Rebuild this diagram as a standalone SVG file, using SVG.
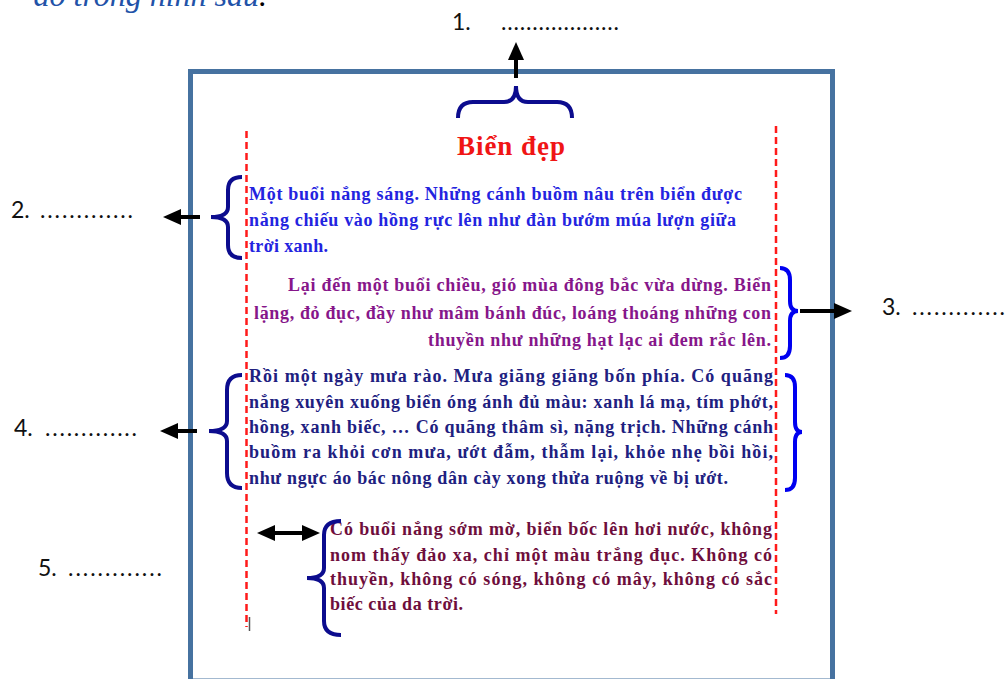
<svg xmlns="http://www.w3.org/2000/svg" width="1007" height="679" viewBox="0 0 1007 679">
<defs>
<style>
.lbl{font-family:Lato,"Liberation Sans",sans-serif;font-size:23px;fill:#111}
.para{font-family:"Liberation Serif","Times New Roman",serif;font-size:18px;font-weight:bold}
.p1{fill:#2323E0}.p2{fill:#86168A}.p3{fill:#20207F}.p4{fill:#6E0E3C}
.brace{fill:none;stroke-width:4}
.bn{stroke:#0C0C8E}.bb{stroke:#0000F0}
.dash{stroke:#FF1A1A;stroke-width:2.5;stroke-dasharray:7 4;fill:none}
.arr{stroke:#000;stroke-width:4;fill:none}
</style>
<marker id="ah" viewBox="0 0 18 16" markerWidth="18" markerHeight="16" refX="10" refY="8" orient="auto-start-reverse" markerUnits="userSpaceOnUse">
<path d="M0,0 L18,8 L0,16 Z" fill="#000"/>
</marker>
</defs>
<rect width="1007" height="679" fill="#fff"/>
<text x="267" y="6" text-anchor="end" font-family="'Liberation Serif',serif" font-style="italic" font-size="32" fill="#2252A8">ào trong hình sau<tspan fill="#000">.</tspan></text>
<g id="frame"><rect x="190.5" y="71.5" width="642" height="609.5" fill="none" stroke="#4672A0" stroke-width="5"/></g>
<g id="guides">
<line class="dash" x1="246.5" y1="131" x2="246.5" y2="627"/>
<line class="dash" x1="776" y1="126" x2="776" y2="614"/>
<line x1="249.5" y1="617" x2="249.5" y2="631" stroke="#555" stroke-width="1.5"/>
</g>
<g id="title"><text x="457" y="155" textLength="108" font-family="'Liberation Serif',serif" font-weight="bold" font-size="27" fill="#F01515">Biển đẹp</text></g>
<g id="para1" class="para p1">
<text x="249" y="200" textLength="493">Một buổi nắng sáng. Những cánh buồm nâu trên biển được</text>
<text x="249" y="226" textLength="487">nắng chiếu vào hồng rực lên như đàn bướm múa lượn giữa</text>
<text x="249" y="252" textLength="79">trời xanh.</text>
</g>
<g id="para2" class="para p2">
<text x="288" y="291" textLength="483">Lại đến một buổi chiều, gió mùa đông bắc vừa dừng. Biển</text>
<text x="254" y="319" textLength="517">lặng, đỏ đục, đầy như mâm bánh đúc, loáng thoáng những con</text>
<text x="428" y="346" textLength="343">thuyền như những hạt lạc ai đem rắc lên.</text>
</g>
<g id="para3" class="para p3">
<text x="249" y="382" textLength="524">Rồi một ngày mưa rào. Mưa giăng giăng bốn phía. Có quãng</text>
<text x="249" y="407.5" textLength="524">nắng xuyên xuống biển óng ánh đủ màu: xanh lá mạ, tím phớt,</text>
<text x="249" y="433" textLength="524">hồng, xanh biếc, … Có quãng thâm sì, nặng trịch. Những cánh</text>
<text x="249" y="458" textLength="524">buồm ra khỏi cơn mưa, ướt đẫm, thẫm lại, khỏe nhẹ bồi hồi,</text>
<text x="249" y="483.5" textLength="479">như ngực áo bác nông dân cày xong thửa ruộng về bị ướt.</text>
</g>
<g id="para4" class="para p4">
<text x="330" y="535" textLength="442">Có buổi nắng sớm mờ, biển bốc lên hơi nước, không</text>
<text x="330" y="560.5" textLength="442">nom thấy đảo xa, chỉ một màu trắng đục. Không có</text>
<text x="330" y="585" textLength="442">thuyền, không có sóng, không có mây, không có sắc</text>
<text x="330" y="610" textLength="133">biếc của da trời.</text>
</g>
<g id="labels">
<text class="lbl" x="452" y="30">1.<tspan x="501" textLength="118">...................</tspan></text>
<text class="lbl" x="11" y="218">2.<tspan x="40" textLength="93">.............</tspan></text>
<text class="lbl" x="882" y="315">3.<tspan x="912" textLength="93">.............</tspan></text>
<text class="lbl" x="14" y="436">4.<tspan x="45" textLength="92">.............</tspan></text>
<text class="lbl" x="38" y="576">5.<tspan x="68" textLength="94">.............</tspan></text>
</g>
<g id="braces">
<path class="brace bn" d="M458,118 Q458,102 473,102 L504,102 Q516,102 516,86 Q516,102 528,102 L557,102 Q572,102 572,118"/>
<path class="brace bn" d="M242,177 Q228,177 228,190 L228,207 Q228,217 211,217 Q228,217 228,227 L228,245 Q228,258 242,258"/>
<path class="brace bb" d="M780,268 Q790,268 790,280 L790,301 Q790,311 798,311 Q790,311 790,321 L790,346 Q790,358 780,358"/>
<path class="brace bn" d="M242,375 Q227,375 227,390 L227,421 Q227,431 209,431 Q227,431 227,441 L227,473 Q227,488 242,488"/>
<path class="brace bb" d="M785,375 Q795,375 795,387 L795,422 Q795,432 802,432 Q795,432 795,442 L795,478 Q795,490 785,490"/>
<path class="brace bn" d="M341,521 Q324,521 324,535 L324,568 Q324,578 307,578 Q324,578 324,588 L324,621 Q324,635 341,635"/>
</g>
<g id="connectors">
<line class="arr" x1="516" y1="78" x2="516" y2="50" marker-end="url(#ah)"/>
<line class="arr" x1="200" y1="217" x2="171" y2="217" marker-end="url(#ah)"/>
<line class="arr" x1="800" y1="311" x2="844" y2="311" marker-end="url(#ah)"/>
<line class="arr" x1="197" y1="431" x2="168" y2="431" marker-end="url(#ah)"/>
<line class="arr" x1="265" y1="533" x2="312" y2="533" marker-start="url(#ah)" marker-end="url(#ah)"/>
</g>
</svg>
